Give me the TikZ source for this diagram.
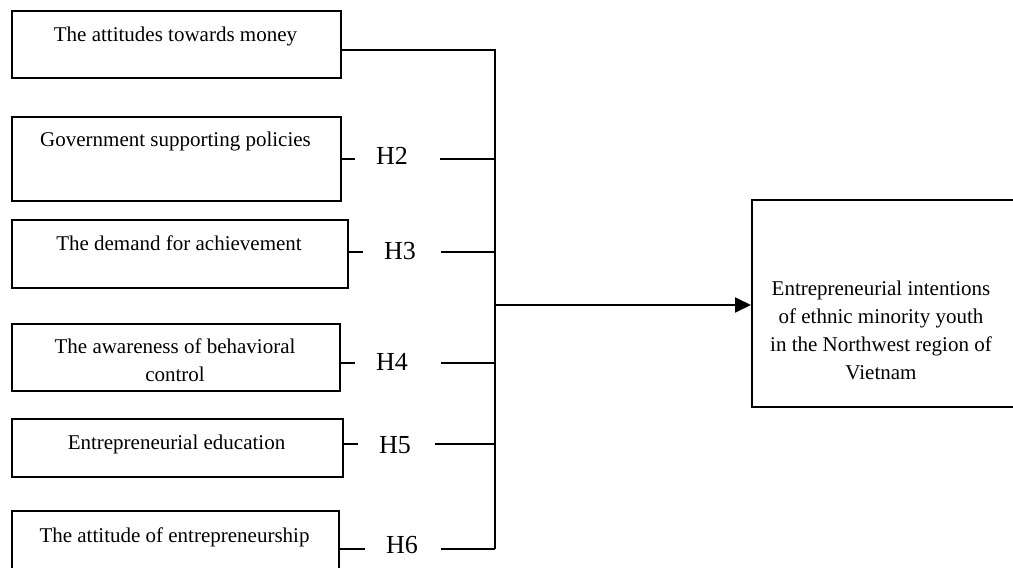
\documentclass[tikz,border=0pt]{standalone}
\usepackage{fontspec}
\setmainfont{Liberation Serif}
\usetikzlibrary{arrows.meta}
\begin{document}
\begin{tikzpicture}[x=1pt, y=-1pt, line width=1.9pt,
    factor/.style={draw, anchor=north west, inner sep=0pt},
    ftext/.style={anchor=base, align=center, inner sep=0pt,
        font=\fontsize{21}{28}\selectfont},
    hyp/.style={anchor=base, inner ysep=0pt, inner xsep=20pt,
        font=\fontsize{26}{28}\selectfont}]
    \useasboundingbox (0,0) rectangle (1013,568);
    \clip (0,0) rectangle (1013,568);
    % factors
    \node[factor, minimum width=329, minimum height=67] (money) at (11,10) {};
    \node[ftext] (moneyt) at (175.5,41) {The attitudes towards money};
    \node[factor, minimum width=329, minimum height=84] (gov) at (11,116) {};
    \node[ftext] (govt) at (175.5,146) {Government supporting policies};
    \node[factor, minimum width=336, minimum height=68] (ach) at (11,219) {};
    \node[ftext] (acht) at (179,250) {The demand for achievement};
    \node[factor, minimum width=328, minimum height=67] (ctrl) at (11,323) {};
    \node[ftext] (ctrlt) at (175,381) {The awareness of behavioral\\control};
    \node[factor, minimum width=331, minimum height=58] (edu) at (11,418) {};
    \node[ftext] (edut) at (176.5,449) {Entrepreneurial education};
    \node[factor, minimum width=327, minimum height=80] (att) at (11,510) {};
    \node[ftext] (attt) at (174.5,542) {The attitude of entrepreneurship};
    % outcome
    \node[factor, minimum width=265, minimum height=207] (intent) at (751,199) {};
    \node[ftext] (intentt) at (881,379) {Entrepreneurial intentions\\of ethnic minority youth\\in the Northwest region of\\Vietnam};
    % hypotheses
    \node[hyp] (h2) at (392,164) {H2};
    \node[hyp] (h3) at (400,259) {H3};
    \node[hyp] (h4) at (392,370) {H4};
    \node[hyp] (h5) at (395,453) {H5};
    \node[hyp] (h6) at (402,553) {H6};
    % bus
    \coordinate (j1) at (495,50);
    \coordinate (j2) at (495,159);
    \coordinate (j3) at (495,252);
    \coordinate (jo) at (495,305);
    \coordinate (j4) at (495,363);
    \coordinate (j5) at (495,444);
    \coordinate (j6) at (495,549);
    \draw (money.east |- j1) -- (j1) -- (j6);
    \foreach \b/\h/\j/\s in {gov/h2/j2/11, ach/h3/j3/4, ctrl/h4/j4/12, edu/h5/j5/3, att/h6/j6/2}{
        \draw (\b.east |- \j) -- (\h.west |- \j);
        \draw[shorten <=\s pt] (\h.east |- \j) -- (\j);
    }
    \draw[-{Triangle[length=16pt,width=15pt]}] ([xshift=-1pt]jo) -- (intent.west |- jo);
\end{tikzpicture}
\end{document}
